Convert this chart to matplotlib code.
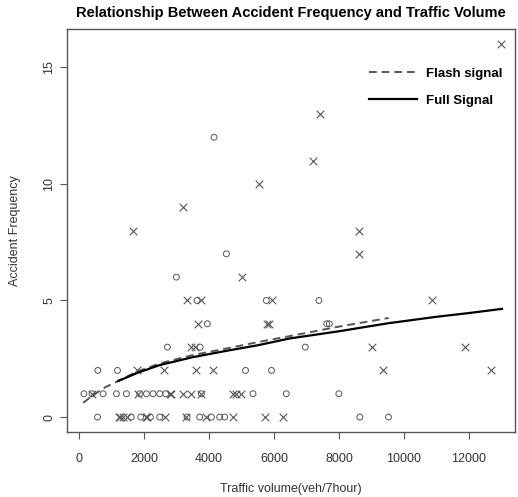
import matplotlib
matplotlib.use("Agg")
import matplotlib.pyplot as plt

plt.rcParams["font.family"] = ["Liberation Sans", "DejaVu Sans"]

# flash signal intersections (open circles)
flash_vol = [4150, 4530, 2990, 3625, 5760, 7380, 3944, 7620, 7700,
             2714, 3720, 6960, 570, 1175, 5120, 5920,
             140, 390, 733, 1144, 1452, 1860, 2068, 2271, 2477, 2661,
             3760, 5350, 6375, 7994,
             560, 1600, 1892, 2190, 2477, 3320, 3708, 4067, 4323, 4477,
             8640, 9523]
flash_acc = [12, 7, 6, 5, 5, 5, 4, 4, 4,
             3, 3, 3, 2, 2, 2, 2,
             1, 1, 1, 1, 1, 1, 1, 1, 1, 1,
             1, 1, 1, 1,
             0, 0, 0, 0, 0, 0, 0, 0, 0, 0,
             0, 0]

# full signal intersections (crosses)
full_vol = [13000, 7400, 7200, 5550, 3200, 1650, 8630, 8630, 5000,
            3330, 3760, 5930, 10870, 3656, 5780, 5850,
            3450, 3550, 9020, 11890,
            1780, 2600, 3585, 4130, 9360, 12680,
            400, 1820, 2790, 2830, 3195, 3450, 3760, 4733, 4836, 4990,
            1225, 1260, 1348, 1471, 2046, 2080, 2630, 3298, 3913, 4733,
            5708, 6272]
full_acc = [16, 13, 11, 10, 9, 8, 8, 7, 6,
            5, 5, 5, 5, 4, 4, 4,
            3, 3, 3, 3,
            2, 2, 2, 2, 2, 2,
            1, 1, 1, 1, 1, 1, 1, 1, 1, 1,
            0, 0, 0, 0, 0, 0, 0, 0, 0, 0,
            0, 0]

# fitted curves
flash_fit_x = [117, 425, 800, 1246, 1760, 2477, 3500, 4530, 5554, 6477, 8000, 9530]
flash_fit_y = [0.61, 0.94, 1.28, 1.58, 1.94, 2.30, 2.66, 2.94, 3.23, 3.47, 3.88, 4.25]
full_fit_x = [1200, 1800, 2477, 3500, 4530, 5500, 6477, 8000, 9500, 11000, 12000, 13020]
full_fit_y = [1.55, 1.90, 2.23, 2.57, 2.84, 3.08, 3.37, 3.68, 4.02, 4.30, 4.46, 4.64]

x_ticks = [0, 2000, 4000, 6000, 8000, 10000, 12000]
y_ticks = [0, 5, 10, 15]

GREY = "#555555"

fig = plt.figure(figsize=(5.18, 4.97), dpi=100)
ax = fig.add_axes([0.1293, 0.1308, 0.8649, 0.8108])

ax.scatter(flash_vol, flash_acc, s=18, marker="o", facecolors="none",
           edgecolors=GREY, linewidths=0.7, zorder=2)
ax.scatter(full_vol, full_acc, s=30, marker="x", color=GREY,
           linewidths=0.8, zorder=2)
ax.plot(flash_fit_x, flash_fit_y, color=GREY, linestyle=(0, (4, 2.5)),
        linewidth=1.4, label="Flash signal", zorder=3)
ax.plot(full_fit_x, full_fit_y, color="black", linewidth=1.6,
        label="Full Signal", zorder=3)

ax.set_xlim(-380, 13420)
ax.set_ylim(-0.64, 16.64)
ax.set_xticks(x_ticks)
ax.set_yticks(y_ticks)
ax.set_yticklabels([str(t) for t in y_ticks], rotation=90, va="center")
ax.tick_params(axis="both", length=5, width=0.8, color=GREY,
               labelsize=9, labelcolor="#333333")
ax.tick_params(axis="x", pad=10)
ax.tick_params(axis="y", pad=3.5)
for sp in ax.spines.values():
    sp.set_color(GREY)
    sp.set_linewidth(1.0)

ax.set_title("Relationship Between Accident Frequency and Traffic Volume",
             fontsize=10.5, fontweight="bold", pad=9)
ax.set_xlabel("Traffic volume(veh/7hour)", fontsize=9, labelpad=13,
              color="#333333")
ax.set_ylabel("Accident Frequency", fontsize=9, labelpad=16,
              color="#333333")

leg = ax.legend(loc="upper left", bbox_to_anchor=(0.675, 0.905),
                frameon=False, handlelength=3.6, handletextpad=0.7,
                labelspacing=1.15, borderpad=0, borderaxespad=0,
                prop={"size": 9.5, "weight": "bold"})

fig.savefig("out.png", dpi=100)
